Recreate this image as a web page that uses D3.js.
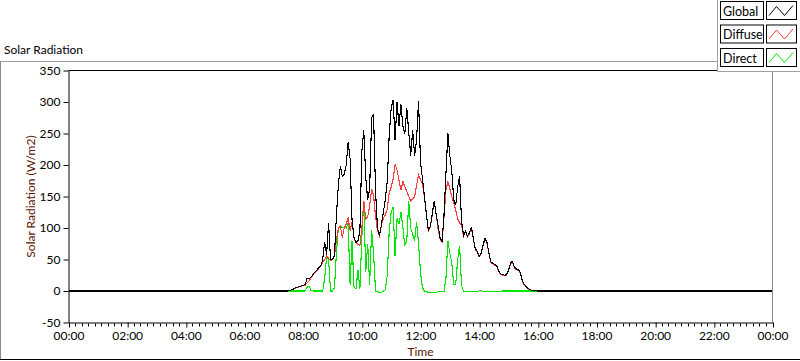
<!DOCTYPE html>
<html><head><meta charset="utf-8">
<script src="https://cdn.jsdelivr.net/npm/d3@7"></script>
<style>body{margin:0;background:#fff}svg{display:block;font-family:Lato,"Noto Sans",sans-serif}</style>
</head><body><svg id="c" width="800" height="361"></svg>
<script>
// ---- data ----
const times = ["00:00",
"07:20","07:24","07:28","07:32","07:36","07:40","07:44","07:48","07:52","07:56",
"08:00","08:04","08:08","08:12","08:16","08:20","08:24","08:28","08:32","08:36","08:40","08:44","08:48","08:52","08:56",
"09:00","09:04","09:08","09:12","09:16","09:20","09:24","09:28","09:32","09:36","09:40","09:44","09:48","09:52","09:56",
"10:00","10:04","10:08","10:12","10:16","10:20","10:24","10:28","10:32","10:36","10:40","10:44","10:48","10:52","10:56",
"11:00","11:04","11:08","11:12","11:16","11:20","11:24","11:28","11:32","11:36","11:40","11:44","11:48","11:52","11:56",
"12:00","12:04","12:08","12:12","12:16","12:20","12:24","12:28","12:32","12:36","12:40","12:44","12:48","12:52","12:56",
"13:00","13:04","13:08","13:12","13:16","13:20","13:24","13:28","13:32","13:36","13:40","13:44","13:48","13:52","13:56",
"14:00","14:04","14:08","14:12","14:16","14:20","14:24","14:28","14:32","14:36","14:40","14:44","14:48","14:52","14:56",
"15:00","15:04","15:08","15:12","15:16","15:20","15:24","15:28","15:32","15:36","15:40","15:44","15:48","15:52","15:56",
"16:00","16:04","16:08",
"24:00"];
const globalVals = [0,
0,0,0,0.5,2,3,5,6,7,8,
9,10,20,19,22,26,30,33,37,40,50,78,58,108,50,
50,56,120,168,198,182,185,200,236,210,112,85,77,79,95,
222,255,180,145,162,275,280,160,100,88,105,125,145,175,248,
290,303,240,300,262,296,262,250,290,252,215,255,215,240,302,
205,178,150,122,96,102,122,143,122,104,85,78,120,185,250,
215,190,145,136,165,182,110,88,95,87,92,102,84,67,63,
55,60,73,84,77,60,46,44,42,40,32,27,26,25,26,
33,44,47,38,35,34,30,17,11,7,4,2,1,0.5,0.3,
0,0,0,
0];
const diffuseVals = [0,
0,0,0,0.5,2,3,4.5,5.5,6.5,7.5,
8.5,9,13,16,21,25,29,32,36,39,45,50,56,52,48,
50,56,80,100,103,85,100,106,117,96,110,84,76,74,72,
100,143,115,118,135,162,152,118,96,87,104,115,121,130,155,
165,178,201,192,176,160,174,166,158,150,143,146,150,168,185,
176,170,149,122,95,102,120,143,122,98,82,78,115,160,174,
162,150,140,128,115,108,105,87,94,86,91,101,83,66,62,
54,59,72,83,76,59,45,43,41,39,31,26,25,24,25,
32,43,46,37,34,33,29,16,10,6.5,3.5,2,1,0.5,0.3,
0,0,0,
0];
const directVals = [0,
0,0,0,0,0,0,0,0,0,0,
0,0,6,8,1,0,0,0,0,0,0,20,55,50,0,
0,5,60,100,104,100,102,100,108,10,80,6,3,33,3,
85,143,30,75,10,96,60,0,-1,-2,-2,0,2,25,95,
125,133,55,115,106,125,100,72,80,143,100,90,80,110,75,
30,5,0,-1,-2,-2,-2,-2,-2,-1,-1,-1,-1,20,80,
60,45,10,10,50,72,8,-1,-1,-1,-1,-1,-1,-1,-1,
0,1,-1,-1,-1,-1,-1,-1,-1,-1,-1,-1,0,0,0,
0,0,0,0,0,0,0,0,0,0,0,0,0,0,0,
0,0,0,
0];
const seriesNames = ["Global","Diffuse","Direct"];
const seriesColors = ["#000000","#ff3c3c","#00e800"];
const yTicks = [-50,0,50,100,150,200,250,300,350];
const xTickLabels = ["00:00","02:00","04:00","06:00","08:00","10:00","12:00","14:00","16:00","18:00","20:00","22:00","00:00"];
const chartTitle = "Solar Radiation";
const xTitle = "Time";
const yTitle = "Solar Radiation (W/m2)";

// ---- drawing ----
const svg = d3.select("#c");
const L = 68.5, R = 772.5, T = 70.5, B = 322.5;
const toMin = s => { const [h,m] = s.split(":").map(Number); return h*60+m; };
const x = d3.scaleLinear().domain([0,1440]).range([L,R]);
const y = d3.scaleLinear().domain([-50,350]).range([B,T]);
const mins = times.map(toMin);
const series = [globalVals, diffuseVals, directVals];

// panel frame
svg.append("line").attr("x1",0).attr("x2",717).attr("y1",61.5).attr("y2",61.5).attr("stroke","#a0a0a0");
svg.append("line").attr("x1",0.5).attr("x2",0.5).attr("y1",61.5).attr("y2",359).attr("stroke","#8a8a8a");
svg.append("line").attr("x1",0).attr("x2",800).attr("y1",359.5).attr("y2",359.5).attr("stroke","#000");
svg.append("text").attr("x",4).attr("y",54).attr("font-size",12).attr("fill","#000").text(chartTitle);

// plot border
svg.append("rect").attr("x",L).attr("y",T).attr("width",R-L).attr("height",B-T).attr("fill","#fff").attr("stroke","none");
svg.append("line").attr("x1",R).attr("x2",R).attr("y1",T).attr("y2",B).attr("stroke","#8a8a8a");
svg.append("line").attr("x1",L).attr("x2",R).attr("y1",T).attr("y2",T).attr("stroke","#000");

// axes
const yAxis = d3.axisLeft(y).tickValues(yTicks).tickFormat(d => String(d)).tickSize(5).tickSizeOuter(0).tickPadding(3);
const gy = svg.append("g").attr("transform",`translate(${L},0)`).call(yAxis);
const xMajor = d3.range(0, xTickLabels.length).map(i => i*120);
const xAxis = d3.axisBottom(x).tickValues(xMajor).tickFormat((d,i)=>xTickLabels[i]).tickSize(5).tickSizeOuter(0).tickPadding(4);
const gx = svg.append("g").attr("transform",`translate(0,${B})`).call(xAxis);
const minorTicks = [];
xMajor.slice(0,-1).forEach(m => { for (let k=1;k<9;k++) minorTicks.push(m + k*120/9); });
svg.append("g").selectAll("line").data(minorTicks).join("line")
  .attr("x1",d=>Math.round(x(d))+0.5).attr("x2",d=>Math.round(x(d))+0.5)
  .attr("y1",B+1).attr("y2",B+4).attr("stroke","#000");
[gx,gy].forEach(g=>{
  g.selectAll("text").attr("font-size",12).attr("fill","#000").attr("font-family","Lato, 'Noto Sans', sans-serif");
  g.selectAll("line").attr("stroke","#000");
  g.select(".domain").attr("stroke","#000");
});
gx.selectAll(".tick line").attr("transform","translate(0.5,0)");

svg.append("text").attr("x",(L+R)/2).attr("y",356).attr("text-anchor","middle")
  .attr("font-size",12).attr("fill","#5a1400").text(xTitle);
svg.append("text").attr("transform",`translate(35,${(T+B)/2}) rotate(-90)`).attr("text-anchor","middle")
  .attr("font-size",12).attr("fill","#5a1400").text(yTitle);

// lines
svg.append("clipPath").attr("id","pc").append("rect").attr("x",L+0.5).attr("y",T+0.5).attr("width",R-L-1).attr("height",B-T-1);
const line = d3.line().x((d,i)=>x(mins[i])).y(d=>y(d));
const g = svg.append("g").attr("clip-path","url(#pc)");
[2,1,0].forEach(k=>{
  g.append("path").datum(series[k]).attr("d",line).attr("fill","none")
   .attr("stroke",seriesColors[k]).attr("stroke-width",1.1).attr("shape-rendering","crispEdges");
});

// legend
const lg = svg.append("g");
lg.append("rect").attr("x",717.5).attr("y",-1).attr("width",84).attr("height",72.5).attr("fill","#fff").attr("stroke","#a0a0a0");
seriesNames.forEach((n,i)=>{
  const top = 1.5 + i*23.5;
  lg.append("rect").attr("x",720.5).attr("y",top).attr("width",43).attr("height",18).attr("fill","#fff").attr("stroke","#000");
  lg.append("text").attr("x",723).attr("y",top+14).attr("font-size",12.5).attr("fill","#000").text(n);
  lg.append("rect").attr("x",766.5).attr("y",top).attr("width",30).attr("height",18).attr("fill","#fff").attr("stroke","#000");
  const pts = [[769,top+14],[776.5,top+5],[784.5,top+14],[793,top+4]];
  lg.append("path").attr("d",d3.line()(pts)).attr("fill","none").attr("stroke",seriesColors[i]).attr("stroke-width",1);
});
</script>
</body></html>
